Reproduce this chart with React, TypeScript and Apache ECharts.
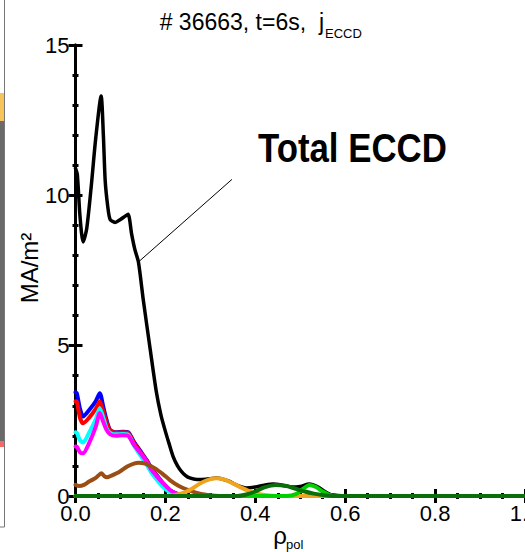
import React, { useEffect, useRef } from "react";
import * as echarts from "echarts";

// ---- data (rho_pol, MA/m^2) ----
const totalRho = [0, 0.004, 0.01, 0.017, 0.025, 0.035, 0.045, 0.057, 0.062, 0.066, 0.072, 0.077, 0.088, 0.1, 0.11, 0.117, 0.125, 0.132, 0.14, 0.151, 0.166, 0.18, 0.19, 0.199, 0.208, 0.217, 0.227, 0.236, 0.245, 0.254, 0.27, 0.29, 0.314, 0.34, 0.36, 0.38, 0.4, 0.42, 0.44, 0.46, 0.48, 0.5, 0.52, 0.54, 0.555, 0.57, 0.6, 1.0];
const totalVal = [10.9, 10.7, 9.3, 8.45, 8.9, 10.3, 11.9, 13.3, 12.0, 10.5, 9.6, 9.2, 9.1, 9.2, 9.3, 9.37, 8.7, 8.2, 7.78, 6.5, 4.9, 3.45, 2.7, 2.2, 1.75, 1.32, 1.0, 0.81, 0.68, 0.6, 0.55, 0.56, 0.6, 0.5, 0.35, 0.27, 0.3, 0.36, 0.4, 0.36, 0.3, 0.32, 0.4, 0.3, 0.15, 0.04, 0, 0];

const coreRho = [0, 0.003, 0.01, 0.017, 0.03, 0.045, 0.054, 0.062, 0.069, 0.077, 0.09, 0.105, 0.117, 0.13, 0.145, 0.158, 0.17, 0.183, 0.195, 0.21, 0.225, 0.24, 0.26, 1.0];
const blueVal = [3.45, 3.42, 2.9, 2.64, 2.85, 3.15, 3.42, 2.95, 2.53, 2.2, 2.12, 2.14, 2.12, 1.8, 1.48, 1.2, 0.9, 0.65, 0.42, 0.2, 0.08, 0.02, 0, 0];
const redVal = [3.15, 3.14, 2.6, 2.42, 2.6, 2.9, 3.14, 2.8, 2.45, 2.18, 2.1, 2.12, 2.1, 1.77, 1.45, 1.18, 0.88, 0.63, 0.4, 0.19, 0.07, 0.02, 0, 0];
const cyanVal = [2.12, 2.1, 1.85, 1.78, 2.1, 2.55, 2.92, 2.6, 2.25, 2.1, 2.05, 2.06, 2.04, 1.68, 1.33, 1.05, 0.75, 0.5, 0.3, 0.12, 0.04, 0.01, 0, 0];
const magentaVal = [1.65, 1.64, 1.45, 1.42, 1.75, 2.3, 2.76, 2.45, 2.2, 2.05, 2.0, 2.02, 2.0, 1.7, 1.42, 1.15, 0.85, 0.62, 0.42, 0.2, 0.08, 0.02, 0, 0];

const brownRho = [0, 0.008, 0.02, 0.03, 0.045, 0.058, 0.064, 0.07, 0.08, 0.098, 0.115, 0.13, 0.14, 0.155, 0.177, 0.195, 0.21, 0.23, 0.25, 0.27, 0.29, 0.31, 0.33, 1.0];
const brownVal = [0.37, 0.33, 0.38, 0.48, 0.6, 0.76, 0.66, 0.62, 0.68, 0.81, 0.98, 1.08, 1.11, 1.08, 0.92, 0.72, 0.53, 0.33, 0.2, 0.1, 0.04, 0.01, 0, 0];

const orangeRho = [0, 0.2, 0.22, 0.24, 0.26, 0.28, 0.3, 0.314, 0.33, 0.35, 0.37, 0.39, 0.41, 0.43, 0.46, 1.0];
const orangeVal = [0, 0, 0.03, 0.1, 0.25, 0.44, 0.56, 0.59, 0.55, 0.42, 0.27, 0.14, 0.06, 0.02, 0, 0];

const limeRho = [0, 0.47, 0.49, 0.505, 0.52, 0.535, 0.55, 0.565, 0.58, 1.0];
const limeVal = [0, 0, 0.06, 0.22, 0.37, 0.3, 0.15, 0.04, 0, 0];

const greenRho = [0, 0.36, 0.38, 0.4, 0.42, 0.445, 0.47, 0.49, 0.51, 0.53, 0.55, 0.57, 1.0];
const greenVal = [0, 0, 0.05, 0.15, 0.29, 0.37, 0.33, 0.24, 0.15, 0.08, 0.03, 0, 0];

// annotation pointer for "Total ECCD" (data coordinates)
const pointerStart = [0.139, 7.77];
const pointerEnd = [0.348, 10.53];

const xTicks = { min: 0, max: 1, interval: 0.2 };
const yTicks = { min: 0, max: 15, interval: 5 };

const FONT = "'Liberation Sans', Arial, sans-serif";

function pairs(xs: number[], ys: number[]) {
  return xs.map((x, i) => [x, ys[i]]);
}

function line(name: string, xs: number[], ys: number[], color: string, width: number, extra: any = {}) {
  return {
    name,
    type: "line",
    data: pairs(xs, ys),
    showSymbol: false,
    symbol: "none",
    smooth: 0.25,
    lineStyle: { color, width, cap: "round", join: "round" },
    z: 3,
    ...extra,
  };
}

export default function App() {
  const ref = useRef<HTMLDivElement>(null);
  useEffect(() => {
    document.body.style.margin = "0";
    const chart = echarts.init(ref.current!, null, { renderer: "svg" });
    const tickCommon = {
      axisLine: { show: true, lineStyle: { color: "#000", width: 3 } },
      axisTick: { show: true, inside: true, length: 7, lineStyle: { color: "#000", width: 3 } },
      minorTick: { show: true, length: 3, lineStyle: { color: "#000", width: 3 } },
      splitLine: { show: false },
      minorSplitLine: { show: false },
    };
    chart.setOption({
      animation: false,
      backgroundColor: "#fff",
      grid: { left: 75.5, right: 0, top: 45, bottom: 56, containLabel: false, outerBoundsMode: "none" },
      xAxis: [
        {
          type: "value",
          ...xTicks,
          position: "bottom",
          ...tickCommon,
          minorTick: { ...tickCommon.minorTick, splitNumber: 4 },
          axisLabel: {
            color: "#000",
            fontFamily: FONT,
            fontSize: 22,
            margin: 6,
            formatter: (v: number) => v.toFixed(1),
          },
        },
        {
          type: "value",
          ...xTicks,
          position: "top",
          ...tickCommon,
          minorTick: { ...tickCommon.minorTick, splitNumber: 4 },
          axisLabel: { show: false },
        },
      ],
      yAxis: [
        {
          type: "value",
          ...yTicks,
          position: "left",
          ...tickCommon,
          minorTick: { ...tickCommon.minorTick, splitNumber: 5 },
          axisLabel: { color: "#000", fontFamily: FONT, fontSize: 22, margin: 6 },
        },
        {
          type: "value",
          ...yTicks,
          position: "right",
          ...tickCommon,
          minorTick: { ...tickCommon.minorTick, splitNumber: 5 },
          axisLabel: { show: false },
        },
      ],
      series: [
        line("Total", totalRho, totalVal, "#000000", 3.5, {
          markLine: {
            silent: true,
            symbol: ["none", "none"],
            label: { show: false },
            lineStyle: { color: "#000", width: 1, type: "solid" },
            data: [[{ coord: pointerStart }, { coord: pointerEnd }]],
          },
        }),
        line("blue", coreRho, blueVal, "#0000ff", 4),
        line("red", coreRho, redVal, "#ff0000", 4),
        line("cyan", coreRho, cyanVal, "#00ffff", 4),
        line("magenta", coreRho, magentaVal, "#ff00ff", 4),
        line("brown", brownRho, brownVal, "#9a4e16", 4),
        line("orange", orangeRho, orangeVal, "#f0a41e", 4),
        line("lime", limeRho, limeVal, "#00d000", 4),
        line("green", greenRho, greenVal, "#0a6e0a", 4, { z: 4 }),
      ],
      graphic: [
        // remnant of the neighbouring panel at the far left
        { type: "rect", shape: { x: 0, y: 93, width: 4, height: 28 }, style: { fill: "#f7c459" }, silent: true },
        { type: "rect", shape: { x: 0, y: 121, width: 4, height: 320 }, style: { fill: "#6a6a6a" }, silent: true },
        { type: "rect", shape: { x: 0, y: 441, width: 4, height: 6 }, style: { fill: "#f26a6a" }, silent: true },
        { type: "line", shape: { x1: 4.5, y1: 0, x2: 4.5, y2: 527 }, style: { stroke: "#777", lineWidth: 1 }, silent: true },
        { type: "line", shape: { x1: 0, y1: 527, x2: 4.5, y2: 527 }, style: { stroke: "#777", lineWidth: 1 }, silent: true },
        // title
        {
          type: "text", x: 324, y: 22,
          style: { text: "# 36663, t=6s,  j", fill: "#000", fontFamily: FONT, fontSize: 23, align: "right", verticalAlign: "middle" },
        },
        {
          type: "text", x: 325, y: 33,
          style: { text: "ECCD", fill: "#000", fontFamily: FONT, fontSize: 13, align: "left", verticalAlign: "middle" },
        },
        // y axis name
        {
          type: "text", x: 29, y: 268, rotation: Math.PI / 2,
          style: { text: "MA/m²", fill: "#000", fontFamily: FONT, fontSize: 24, align: "center", verticalAlign: "middle" },
        },
        // x axis name
        {
          type: "text", x: 287, y: 535,
          style: { text: "ρ", fill: "#000", fontFamily: FONT, fontSize: 24, align: "right", verticalAlign: "middle" },
        },
        {
          type: "text", x: 286, y: 544,
          style: { text: "pol", fill: "#000", fontFamily: FONT, fontSize: 13, align: "left", verticalAlign: "middle" },
        },
        // annotation
        {
          type: "text", x: 258, y: 148, scaleX: 0.87,
          style: {
            text: "Total ECCD", fill: "#000",
            fontFamily: FONT,
            fontWeight: "bold", fontSize: 40, align: "left", verticalAlign: "middle",
          },
        },
      ],
    });
    return () => chart.dispose();
  }, []);
  return <div ref={ref} style={{ width: 525, height: 552 }} />;
}
